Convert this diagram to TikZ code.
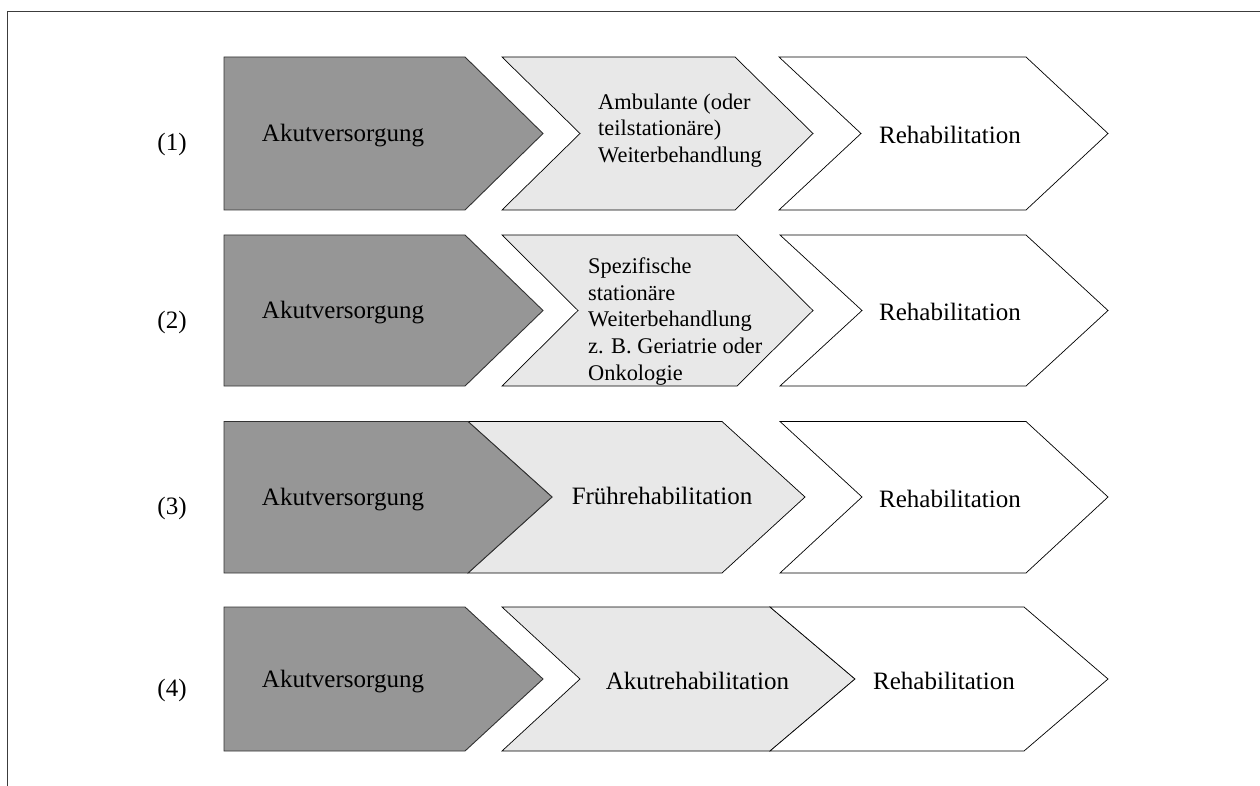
\documentclass[tikz,border=0pt]{standalone}
\usepackage{fontspec}
\setmainfont{Liberation Serif}
\definecolor{darkfill}{RGB}{150,150,150}
\definecolor{lightfill}{RGB}{232,232,232}
\definecolor{framecol}{RGB}{60,60,60}
\begin{document}
\begin{tikzpicture}[x=1pt,y=-1pt,
  darkbox/.style={fill=darkfill,draw=black!80,line width=0.9pt,line join=miter},
  lightbox/.style={fill=lightfill,draw=black,line width=0.7pt,line join=miter},
  whitebox/.style={fill=white,draw=black,line width=0.7pt,line join=miter},
  lbl/.style={font=\fontsize{25}{30}\selectfont,inner sep=0pt,anchor=base},
  multi/.style={font=\fontsize{22.4}{26.6}\selectfont,inner sep=0pt,align=left,anchor=north west},
  rownum/.style={font=\fontsize{25}{30}\selectfont,inner sep=0pt,anchor=base}]
\useasboundingbox (0,0) rectangle (1260,786);
% outer frame (top and left edges)
\draw[framecol,line width=1.3pt] (7.5,786) -- (7.5,11.5) -- (1260,11.5);

% ---------- row 1 ----------
\draw[darkbox] (224,57) -- (465,57) -- (543,133.5) -- (465,210) -- (224,210) -- cycle;
\draw[lightbox] (502,57) -- (735,57) -- (813,133.5) -- (735,210) -- (502,210) -- (580,133.5) -- cycle;
\draw[whitebox] (779,57) -- (1026,57) -- (1108,133.5) -- (1026,210) -- (779,210) -- (861,133.5) -- cycle;
\node[rownum] (n1) at (172,151) {(1)};
\node[lbl] (a1) at (343,141.5) {Akutversorgung};
\node[multi] (m1) at (598,93.5) {Ambulante (oder\\teilstationäre)\\Weiterbehandlung};
\node[lbl] (r1) at (950,143.5) {Rehabilitation};

% ---------- row 2 ----------
\draw[darkbox] (224,235) -- (465,235) -- (543,310.5) -- (465,386) -- (224,386) -- cycle;
\draw[lightbox] (502,235) -- (737,235) -- (813,310.5) -- (737,386) -- (502,386) -- (578,310.5) -- cycle;
\draw[whitebox] (780,235) -- (1026,235) -- (1108,310.5) -- (1026,386) -- (780,386) -- (862,310.5) -- cycle;
\node[rownum] (n2) at (172,328) {(2)};
\node[lbl] (a2) at (343,318.5) {Akutversorgung};
\node[multi] (m2) at (588,257.8) {Spezifische\\stationäre\\Weiterbehandlung\\z. B. Geriatrie oder\\Onkologie};
\node[lbl] (r2) at (950,320.5) {Rehabilitation};

% ---------- row 3 ----------
\draw[lightbox] (468,421.5) -- (722,421.5) -- (805,497) -- (722,573) -- (468,573) -- (552,497) -- cycle;
\draw[darkbox] (224,421.5) -- (468,421.5) -- (552,497) -- (468,573) -- (224,573) -- cycle;
\draw[whitebox] (780,421.5) -- (1026,421.5) -- (1108,497) -- (1026,573) -- (780,573) -- (862,497) -- cycle;
\node[rownum] (n3) at (172,514.5) {(3)};
\node[lbl] (a3) at (343,505) {Akutversorgung};
\node[lbl] (f3) at (662,504) {Frührehabilitation};
\node[lbl] (r3) at (950,507) {Rehabilitation};

% ---------- row 4 ----------
\draw[darkbox] (224,607) -- (465,607) -- (543,679) -- (465,751) -- (224,751) -- cycle;
\draw[lightbox] (502,607) -- (770,607) -- (855,679) -- (770,751) -- (502,751) -- (580,679) -- cycle;
\draw[whitebox] (770,607) -- (1024,607) -- (1108,679) -- (1024,751) -- (770,751) -- (855,679) -- cycle;
\node[rownum] (n4) at (172,696.5) {(4)};
\node[lbl] (a4) at (343,687) {Akutversorgung};
\node[lbl] (k4) at (697.5,689.5) {Akutrehabilitation};
\node[lbl] (r4) at (944,689) {Rehabilitation};
\end{tikzpicture}
\end{document}
